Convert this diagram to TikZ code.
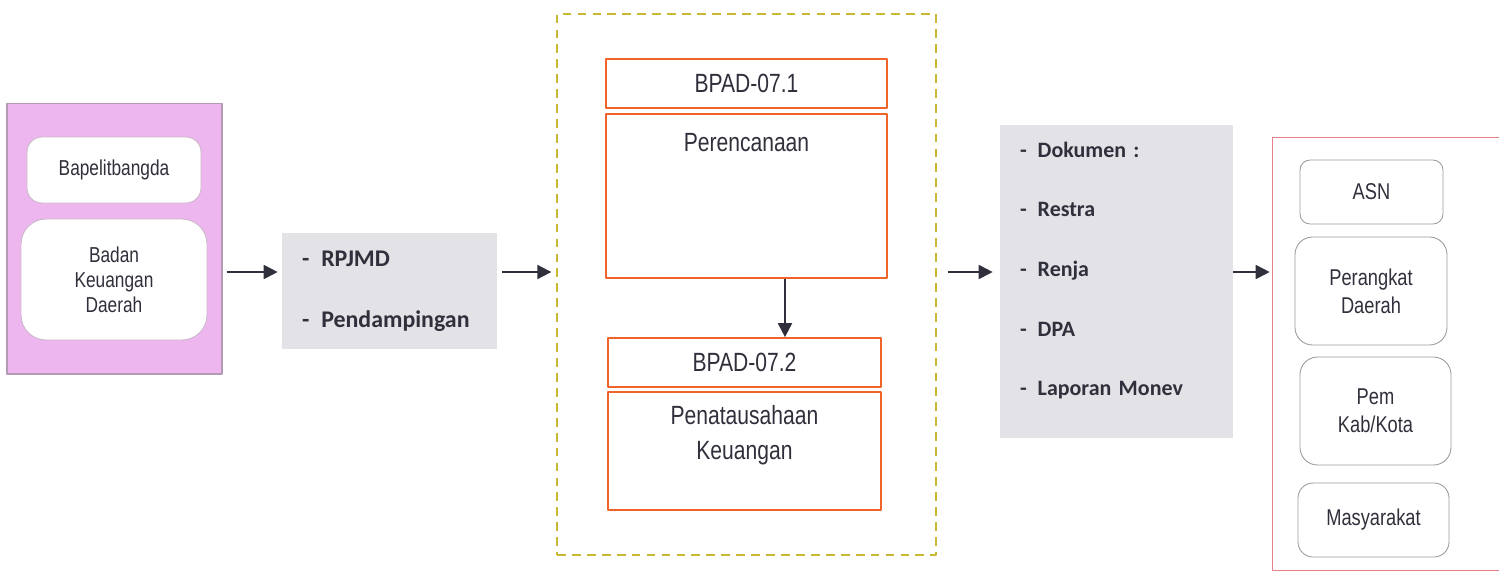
\documentclass[tikz,border=0pt]{standalone}
\usepackage{fontspec}
\setmainfont{Liberation Sans}[FakeStretch=0.8]
\newfontfamily\listfont{Carlito}
\usetikzlibrary{arrows.meta}

\definecolor{inkgray}{HTML}{30303C}
\definecolor{pinkfill}{HTML}{EDB6EE}
\definecolor{pinkedge}{HTML}{B49AB4}
\definecolor{grayfill}{HTML}{E3E2E6}
\definecolor{orangeline}{HTML}{F0642A}
\definecolor{oliveline}{HTML}{C8B833}
\definecolor{redline}{HTML}{E8808A}
\definecolor{roundedge}{HTML}{9C9C9C}

\tikzset{
  srcbox/.style={draw=pinkedge, fill=pinkfill, line width=0.6pt},
  srcitem/.style={draw=pinkedge!70, fill=white, line width=0.5pt, align=center,
    text=inkgray, font=\fontsize{12.3pt}{14.2pt}\selectfont},
  listbox/.style={fill=grayfill, align=left, text=inkgray,
    font=\listfont\bfseries\fontsize{13.6pt}{34.6pt}\selectfont},
  listtxt/.style={align=left, text=inkgray, inner sep=0pt,
    font=\listfont\bfseries\fontsize{12.5pt}{34pt}\selectfont},
  procbox/.style={draw=orangeline, fill=white, line width=1pt},
  proctxt/.style={align=center, text=inkgray, font=\fontsize{15pt}{20.4pt}\selectfont},
  groupbox/.style={draw=oliveline, line width=0.8pt, dash pattern=on 5pt off 3.5pt},
  userbox/.style={draw=roundedge, fill=white, line width=0.5pt, align=center,
    text=inkgray, font=\fontsize{13pt}{15.9pt}\selectfont},
  arr/.style={draw=inkgray, line width=1.1pt, -{Triangle[length=8pt,width=8pt]}}
}

\begin{document}
\begin{tikzpicture}[x=0.02cm,y=-0.02cm,line join=round]
  \useasboundingbox (0,0) rectangle (1499,576);
  \coordinate (lvl) at (0,272);

  % sumber
  \node[srcbox, minimum width=4.30cm, minimum height=5.42cm] (src) at (114.5,238.5) {};
  \node[srcitem, rounded corners=0.3cm, minimum width=3.48cm, minimum height=1.32cm]
    (bapel) at (114,170) {Bapelitbangda};
  \node[srcitem, rounded corners=0.5cm, minimum width=3.72cm, minimum height=2.42cm]
    (bkd) at (114,279.5) {Badan\\Keuangan\\Daerah};

  % masukan
  \node[listbox, inner xsep=0.4cm, text width=3.5cm, minimum height=2.32cm]
    (inp) at (389.5,291) {-\enspace RPJMD\\-\enspace Pendampingan};

  % proses
  \node[groupbox, minimum width=7.58cm, minimum height=10.82cm] (grp) at (746.5,284.5) {};
  \node[procbox, proctxt, minimum width=5.62cm, minimum height=0.98cm]
    (bpad1) at (746.5,83.5) {BPAD-07.1};
  \node[procbox, minimum width=5.62cm, minimum height=3.28cm] (plan) at (746.5,196) {};
  \node[proctxt] (plantxt) at ([yshift=-0.58cm]plan.north) {Perencanaan};
  \node[procbox, proctxt, minimum width=5.46cm, minimum height=0.98cm]
    (bpad2) at (744.5,362.5) {BPAD-07.2};
  \node[procbox, minimum width=5.46cm, minimum height=2.36cm] (keu) at (744.5,451) {};
  \node[proctxt] (keutxt) at ([yshift=-0.88cm]keu.north) {Penatausahaan\\Keuangan};

  % keluaran
  \node[fill=grayfill, minimum width=4.66cm, minimum height=6.26cm] (docs) at (1116.5,281.5) {};
  \node[listtxt, text width=3.86cm] (doclist) at ([yshift=0.22cm]docs.center)
    {-\enspace Dokumen :\\-\enspace Restra\\-\enspace Renja\\-\enspace DPA\\-\enspace Laporan Monev};

  % pengguna
  \node[minimum width=4.52cm, minimum height=8.64cm, inner sep=0pt] (aud) at (1386,354) {};
  \draw[redline, line width=0.6pt] (aud.north east) -- (aud.north west)
    -- (aud.south west) -- (aud.south east);
  \node[userbox, rounded corners=0.2cm, minimum width=2.86cm, minimum height=1.28cm]
    (asn) at (1371.5,192) {ASN};
  \node[userbox, rounded corners=0.35cm, minimum width=3.04cm, minimum height=2.16cm]
    (pd) at (1371,291) {Perangkat\\Daerah};
  \node[userbox, rounded corners=0.35cm, minimum width=3.02cm, minimum height=2.16cm]
    (pem) at (1375.5,411) {Pem\\Kab/Kota};
  \node[userbox, rounded corners=0.3cm, minimum width=3.02cm, minimum height=1.48cm]
    (masy) at (1373.5,520) {Masyarakat};

  % panah
  \draw[arr, shorten <=0.08cm, shorten >=0.08cm] (src.east |- lvl) -- (inp.west |- lvl);
  \draw[arr, shorten <=0.1cm, shorten >=0.1cm] (inp.east |- lvl) -- (grp.west |- lvl);
  \draw[arr, shorten <=0.22cm, shorten >=0.14cm] (grp.east |- lvl) -- (docs.west |- lvl);
  \draw[arr, shorten >=0.06cm] (docs.east |- lvl) -- (aud.west |- lvl);
  \draw[arr] ([xshift=0.77cm]plan.south) -- ([xshift=0.77cm]plan.south |- bpad2.north);
\end{tikzpicture}
\end{document}
